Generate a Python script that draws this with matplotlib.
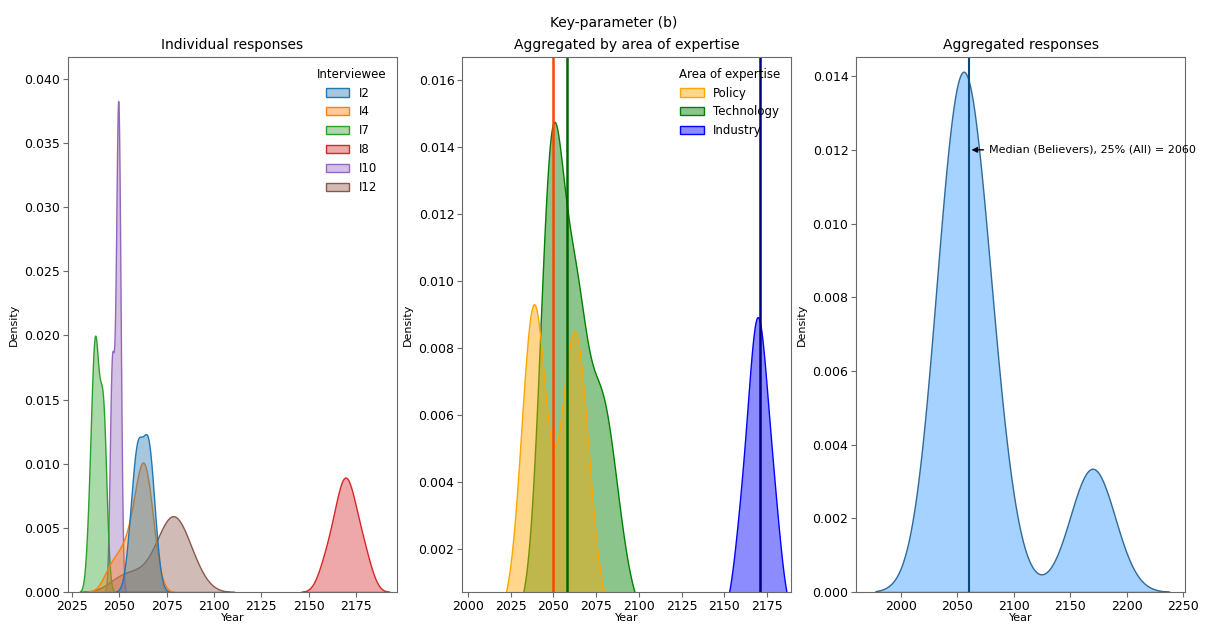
import numpy as np
import pandas as pd
import matplotlib
matplotlib.use("Agg")
import matplotlib.pyplot as plt
import seaborn as sns

# estimated response samples (year) per interviewee
i2_years = [2055.5, 2057.5, 2059, 2059.8, 2060.3, 2061, 2063.8, 2064.5, 2065, 2065.7, 2067, 2069]
i4_years = [2045, 2050, 2054, 2057, 2059.5, 2061, 2062, 2062.8, 2063.5, 2064.3, 2065.5, 2067]
i7_years = [2034, 2035.5, 2036.4, 2036.9, 2037.2, 2037.6, 2038.3, 2039.5, 2040.8, 2041.3, 2041.8, 2042.5]
i8_years = [2158, 2162, 2164.5, 2166.5, 2168, 2169, 2170, 2171.5, 2173, 2175, 2177.5, 2181]
i10_years = [2045.5, 2046, 2046.4, 2047.3, 2048.6, 2049, 2049.2, 2049.4, 2049.6, 2049.8, 2050.1, 2050.4]
i12_years = [2050, 2058, 2067, 2072, 2075, 2076.5, 2078, 2079, 2080.5, 2082.5, 2085.5, 2090]

interviewees = ["I2", "I4", "I7", "I8", "I10", "I12"]
expertise = ["Policy", "Technology", "Policy", "Industry", "Technology", "Technology"]
area_order = ["Policy", "Technology", "Industry"]
area_colors = ["orange", "green", "blue"]
area_medians = [2050, 2058, 2171]
area_line_colors = ["orangered", "darkgreen", "navy"]
median_all = 2060

samples = [i2_years, i4_years, i7_years, i8_years, i10_years, i12_years]
rows = []
for name, area, years in zip(interviewees, expertise, samples):
    for y in years:
        rows.append((name, area, y))
df = pd.DataFrame(rows, columns=["Interviewee", "Area of expertise", "Year"])

fig, axes = plt.subplots(1, 3, figsize=(12.27, 6.25), dpi=100)
fig.subplots_adjust(left=0.0554, right=0.9658, top=0.9088, bottom=0.0528, wspace=0.198)
fig.suptitle("Key-parameter (b)", fontsize=10, y=0.975)

# individual responses
ax = axes[0]
sns.kdeplot(data=df, x="Year", hue="Interviewee", hue_order=interviewees,
            fill=True, alpha=0.4, common_norm=True, ax=ax)
sns.move_legend(ax, "upper right", frameon=False, fontsize=8.5, title_fontsize=8.5)
ax.set_title("Individual responses", fontsize=10)
ax.set_xlim(2022.9, 2196.7)
ax.set_ylim(0, 0.0417)

# aggregated by area
ax = axes[1]
sns.kdeplot(data=df, x="Year", hue="Area of expertise", hue_order=area_order,
            palette=area_colors, fill=True, alpha=0.45, common_norm=True, ax=ax)
sns.move_legend(ax, "upper right", frameon=False, fontsize=8.5, title_fontsize=8.5)
for m, c in zip(area_medians, area_line_colors):
    ax.axvline(m, color=c, lw=1.8)
ax.set_title("Aggregated by area of expertise", fontsize=10)
ax.set_xlim(1996.5, 2189)
ax.set_ylim(0.0007, 0.0167)

# all responses
ax = axes[2]
sns.kdeplot(data=df, x="Year", fill=True, alpha=0.4, color="dodgerblue",
            edgecolor="#2f6a98", ax=ax)
ax.axvline(median_all, color="#0b4a78", lw=1.5)
ax.annotate(f"Median (Believers), 25% (All) = {median_all}", xy=(median_all, 0.012),
            xytext=(median_all + 18, 0.012), va="center", fontsize=8,
            arrowprops=dict(arrowstyle="-|>", color="black", lw=1),
            annotation_clip=False)
ax.set_title("Aggregated responses", fontsize=10)
ax.set_xlim(1960.3, 2251.5)
ax.set_ylim(0, 0.01452)

for ax in axes:
    ax.set_xlabel("Year", fontsize=8, labelpad=0)
    ax.set_ylabel("Density", fontsize=8)
    ax.tick_params(labelsize=9, color="dimgray", pad=2)
    for s in ax.spines.values():
        s.set_color("dimgray")

fig.savefig("out.png", dpi=100)
